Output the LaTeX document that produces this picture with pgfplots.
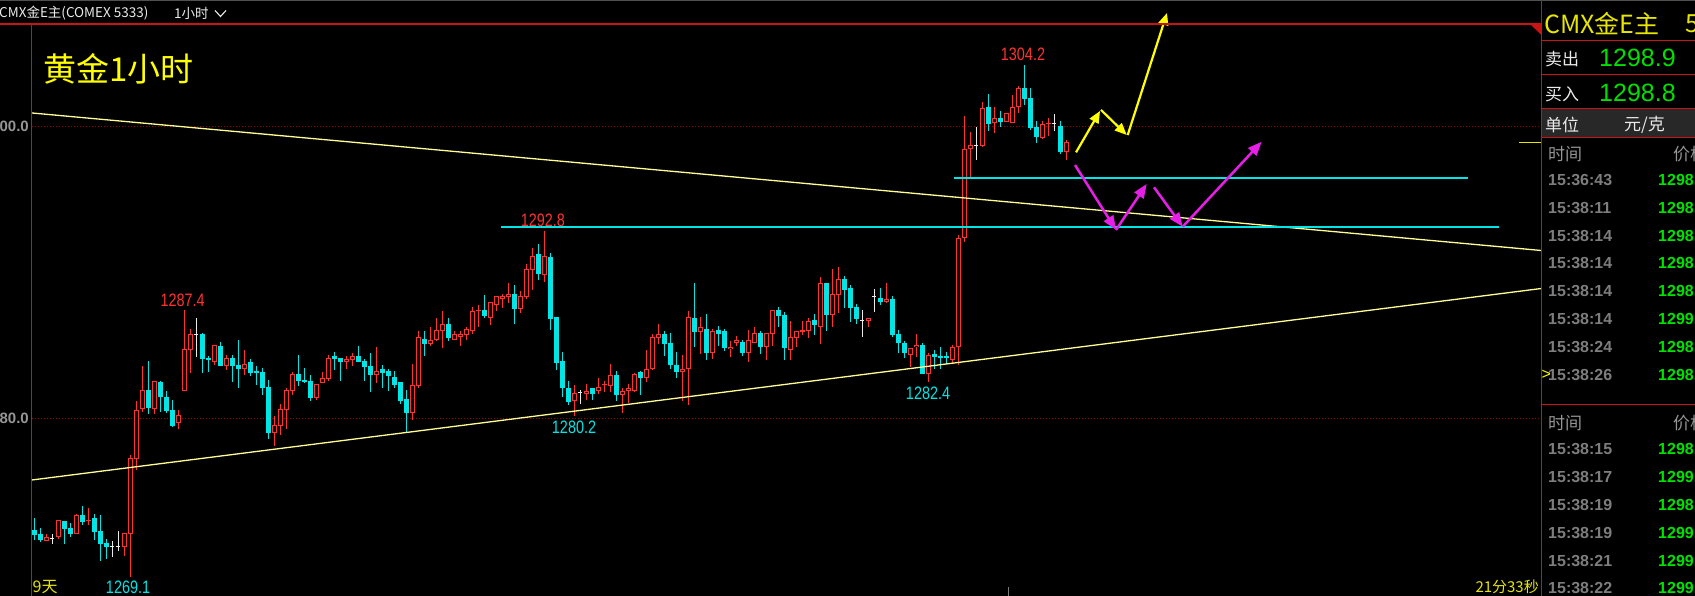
\documentclass[border=0pt]{standalone}
\usepackage{pgfplots}
\pgfplotsset{compat=1.18}
\usepackage{pgfplotstable}
\usepackage{graphicx}
\usepackage{fontspec}
\usetikzlibrary{arrows.meta}
\setmainfont{Liberation Sans}
\newfontfamily\cjk{Noto Sans CJK SC}
\definecolor{cred}{RGB}{255,50,50}
\definecolor{ccyan}{RGB}{0,230,230}
\definecolor{cline}{RGB}{255,255,150}
\definecolor{cframe}{RGB}{200,20,20}
\definecolor{cdot}{RGB}{150,0,0}
\definecolor{ctick}{RGB}{150,150,150}
\definecolor{ctime}{RGB}{125,125,125}
\definecolor{chead}{RGB}{150,150,150}
\definecolor{cgreen}{RGB}{0,225,0}
\definecolor{cyel}{RGB}{255,255,0}
\definecolor{cyel2}{RGB}{230,230,0}
\definecolor{cmag}{RGB}{230,30,230}
\definecolor{cband}{RGB}{40,40,40}
\definecolor{cwhite}{RGB}{235,235,235}
\newcommand{\fs}[1]{\fontsize{#1}{#1}\selectfont}

\pgfplotstableread{
i o h l c
2 1271.61 1272.04 1271.61 1271.84
4 1271.88 1273.03 1271.70 1273.03
7 1272.09 1273.44 1272.09 1273.35
9 1272.93 1273.83 1272.68 1273.03
15 1271.20 1272.11 1270.58 1272.11
16 1272.04 1277.48 1269.09 1277.25
17 1277.23 1281.19 1276.45 1280.55
18 1280.62 1283.59 1280.46 1281.94
20 1280.62 1282.56 1280.32 1282.56
24 1279.66 1280.57 1279.29 1280.20
25 1281.85 1287.43 1281.85 1284.73
26 1284.66 1286.10 1283.13 1285.76
30 1283.88 1285.00 1283.66 1285.00
32 1283.59 1284.34 1283.32 1284.13
35 1283.40 1284.68 1282.97 1283.70
40 1278.99 1280.16 1278.10 1279.54
41 1279.49 1280.98 1278.86 1280.64
42 1280.57 1282.08 1279.27 1281.94
43 1281.89 1283.18 1281.60 1283.04
47 1281.39 1282.33 1281.25 1282.33
48 1282.42 1283.18 1282.42 1282.76
49 1282.70 1284.34 1282.56 1284.13
52 1283.88 1284.27 1283.38 1284.07
53 1284.02 1284.48 1283.59 1284.27
57 1282.97 1284.89 1282.42 1283.24
63 1280.39 1283.72 1279.91 1282.28
64 1282.24 1285.99 1282.10 1285.58
66 1285.12 1286.26 1284.96 1285.37
67 1285.39 1286.88 1285.33 1286.06
68 1286.01 1287.36 1284.85 1286.47
70 1285.39 1285.99 1285.39 1285.78
71 1285.60 1285.99 1284.98 1285.78
72 1285.74 1286.26 1285.39 1286.13
73 1286.01 1287.63 1285.81 1287.36
74 1287.34 1287.77 1286.29 1287.45
76 1286.90 1287.98 1286.42 1287.98
77 1287.79 1288.39 1287.38 1288.39
78 1288.21 1288.53 1287.57 1288.37
79 1288.34 1289.28 1287.93 1288.53
81 1287.52 1288.73 1287.25 1288.39
82 1288.34 1290.58 1288.21 1290.22
83 1290.19 1291.68 1288.82 1291.13
85 1289.81 1292.85 1289.33 1291.13
90 1281.21 1282.28 1280.18 1281.74
92 1281.69 1282.38 1281.28 1281.90
94 1281.90 1282.76 1281.69 1282.15
95 1282.26 1282.56 1281.83 1282.35
96 1282.24 1283.72 1281.83 1282.97
98 1281.62 1282.08 1280.39 1281.87
99 1281.90 1282.38 1281.07 1282.08
100 1281.90 1283.13 1281.80 1283.04
102 1282.79 1284.69 1282.51 1283.38
103 1283.40 1285.78 1283.31 1285.58
104 1285.53 1286.47 1285.12 1285.78
108 1283.20 1284.34 1281.21 1283.38
109 1283.40 1287.36 1280.94 1286.95
111 1285.94 1286.95 1284.43 1286.26
113 1284.50 1286.13 1284.09 1285.99
116 1284.73 1285.30 1284.23 1284.89
117 1285.14 1285.64 1284.98 1285.37
119 1284.50 1286.06 1283.88 1285.37
120 1285.19 1286.26 1285.19 1285.85
122 1284.91 1285.85 1284.02 1285.85
123 1285.81 1287.43 1284.98 1287.43
126 1284.71 1286.67 1284.02 1285.58
127 1285.53 1285.99 1284.91 1285.99
128 1285.94 1286.67 1285.74 1286.06
129 1286.01 1286.88 1285.53 1286.67
131 1286.29 1289.69 1285.12 1289.26
133 1287.11 1290.24 1286.29 1288.50
134 1288.48 1290.38 1287.25 1289.53
139 1286.70 1286.88 1286.29 1286.88
142 1287.98 1289.28 1287.91 1288.16
146 1284.32 1284.85 1283.54 1284.85
147 1284.87 1285.76 1284.23 1285.03
149 1283.02 1284.46 1282.47 1284.34
153 1284.00 1285.03 1283.70 1284.87
154 1284.87 1292.57 1283.63 1292.34
155 1292.34 1300.73 1292.07 1298.45
156 1298.45 1299.64 1296.55 1298.72
158 1298.70 1301.72 1298.63 1301.26
160 1300.23 1301.35 1299.59 1300.57
162 1300.35 1300.94 1300.35 1300.94
163 1300.23 1302.17 1300.23 1301.35
164 1301.33 1302.79 1300.92 1302.63
168 1299.23 1300.39 1299.13 1300.16
169 1300.16 1300.60 1299.36 1300.25
172 1298.24 1299.09 1297.74 1298.93
}\uptab

\pgfplotstableread{
i o h l c
0 1272.34 1273.14 1271.65 1272.00
1 1272.06 1272.48 1271.54 1271.65
5 1272.96 1272.96 1271.38 1272.41
6 1272.48 1272.82 1271.84 1272.06
8 1273.35 1273.99 1272.68 1272.89
10 1273.14 1273.44 1271.65 1272.22
11 1272.27 1273.35 1270.24 1271.40
12 1271.42 1271.70 1270.37 1271.20
19 1281.94 1283.93 1280.32 1280.73
21 1282.49 1282.58 1280.43 1281.48
22 1281.44 1281.85 1280.39 1280.52
23 1280.57 1281.26 1279.43 1279.50
28 1285.78 1285.87 1283.13 1284.04
29 1284.13 1284.27 1283.20 1284.02
31 1284.96 1285.23 1283.59 1283.59
33 1284.13 1284.34 1282.49 1283.59
34 1283.66 1285.37 1282.08 1283.40
36 1283.86 1284.07 1282.90 1283.13
37 1283.27 1283.59 1282.28 1283.13
38 1283.18 1283.45 1281.60 1282.08
39 1282.15 1282.63 1278.58 1278.99
44 1283.04 1284.34 1282.22 1282.56
45 1282.63 1283.45 1282.42 1282.49
46 1282.56 1282.95 1281.19 1281.39
50 1284.27 1284.55 1283.32 1284.07
51 1284.13 1284.13 1282.56 1283.86
54 1284.27 1284.96 1283.86 1283.86
55 1283.93 1284.07 1282.56 1283.52
56 1283.59 1284.48 1281.80 1282.97
58 1283.38 1283.66 1282.10 1283.13
59 1283.24 1283.38 1281.90 1282.92
60 1282.83 1283.24 1282.10 1282.31
61 1282.47 1282.47 1281.00 1281.21
62 1281.32 1281.94 1279.08 1280.39
65 1285.44 1285.99 1284.30 1285.12
69 1286.47 1286.88 1285.33 1285.51
75 1287.45 1288.46 1286.88 1287.02
80 1288.53 1289.14 1286.49 1287.52
84 1291.27 1291.95 1289.51 1289.92
86 1291.06 1291.34 1286.06 1286.83
87 1286.95 1286.95 1283.31 1283.82
88 1283.93 1284.55 1281.48 1282.10
89 1282.08 1282.56 1280.94 1281.14
93 1282.08 1282.08 1281.28 1281.69
97 1282.97 1283.24 1281.21 1281.62
101 1283.15 1283.24 1281.62 1282.79
105 1285.78 1285.99 1284.30 1285.12
106 1285.17 1285.85 1283.40 1283.68
107 1283.66 1284.55 1282.79 1283.20
110 1286.88 1289.28 1284.91 1285.94
112 1286.13 1287.15 1284.00 1284.50
114 1286.06 1286.33 1284.98 1285.81
115 1285.99 1286.15 1284.64 1284.84
118 1285.23 1285.37 1284.30 1284.50
121 1285.85 1285.99 1284.43 1284.91
124 1287.43 1287.63 1286.26 1287.04
125 1287.09 1287.29 1284.02 1284.84
130 1286.74 1287.15 1285.74 1286.42
132 1289.28 1289.28 1286.01 1287.11
135 1289.55 1289.76 1287.59 1288.80
136 1288.94 1289.14 1286.63 1287.59
137 1287.63 1287.84 1286.49 1286.83
141 1288.25 1288.94 1287.79 1287.98
143 1288.18 1288.37 1285.60 1285.71
144 1285.76 1286.06 1284.46 1285.14
145 1285.14 1285.28 1284.11 1284.46
148 1285.00 1285.14 1283.02 1283.02
150 1284.39 1284.69 1283.36 1284.23
151 1284.27 1284.89 1283.36 1284.11
152 1284.27 1284.53 1283.70 1284.11
159 1301.35 1302.24 1299.73 1300.21
161 1300.57 1301.08 1300.00 1300.35
165 1302.63 1304.23 1301.51 1301.90
166 1301.97 1302.65 1299.77 1299.93
167 1299.96 1300.39 1298.91 1299.32
171 1300.05 1300.39 1298.15 1298.29
}\downtab

\pgfplotstableread{
i o h l c
3 1271.74 1272.04 1271.38 1271.74
13 1271.24 1271.58 1270.51 1271.24
14 1271.24 1272.27 1270.92 1271.24
27 1285.76 1286.86 1284.23 1285.76
91 1281.74 1281.94 1281.00 1281.74
138 1286.74 1287.43 1285.60 1286.74
140 1288.37 1288.87 1287.31 1288.37
157 1298.72 1299.96 1297.74 1298.72
170 1300.19 1300.87 1299.73 1300.19
}\dojitab

\begin{document}
\begin{tikzpicture}
\useasboundingbox (0,0) rectangle (1695pt,596pt);
\clip (0,0) rectangle (1695pt,596pt);
\fill[black] (0,0) rectangle (1695pt,596pt);

\begin{axis}[
  at={(32pt,0pt)}, anchor=south west,
  scale only axis, width=1509pt, height=572pt,
  xmin=-0.3333, xmax=251.1667, ymin=1267.812, ymax=1307.044,
  axis line style={draw=none},
  xtick=\empty,
  ytick={1280,1300}, yticklabels={1280.0,1300.0},
  major tick length=0pt,
  yticklabel style={anchor=east, inner sep=0pt, xshift=-3pt, text=ctick, font=\bfseries\fs{15}},
  ymajorgrids, grid style={cdot, line width=1pt, dash pattern=on 1pt off 2pt},
  clip=false,
]
% down candles (cyan, filled)
\addplot[ccyan, line width=1pt, quiver={u=0, v={\thisrow{l}-\thisrow{h}}}] table[x=i, y=h] \downtab;
\addplot[ccyan, line width=5pt, line cap=butt, quiver={u=0, v={min(\thisrow{c}-\thisrow{o},-0.07)}}] table[x=i, y=o] \downtab;
% up candles (red, hollow)
\addplot[cred, line width=1pt, quiver={u=0, v={\thisrow{l}-\thisrow{h}}}] table[x=i, y=h] \uptab;
\addplot[cred, line width=5pt, line cap=butt, quiver={u=0, v={max(\thisrow{c}-\thisrow{o},0.07)}}] table[x=i, y=o] \uptab;
\addplot[black, line width=3pt, line cap=butt, quiver={u=0, v={max(\thisrow{c}-\thisrow{o}-0.1372,0)}}] table[x=i, y expr=\thisrow{o}+0.0686] \uptab;
% doji (white cross)
\addplot[cwhite, line width=1pt, quiver={u=0, v={\thisrow{l}-\thisrow{h}}}] table[x=i, y=h] \dojitab;
\addplot[cwhite, line width=1pt, line cap=butt, quiver={u=0.8, v=0}] table[x expr=\thisrow{i}-0.4, y=c] \dojitab;

% trend lines
\addplot[cline, line width=1.3pt] coordinates {(-0.3333,1300.94) (251.1667,1291.51)};
\addplot[cline, line width=1.3pt] coordinates {(-0.3333,1275.77) (251.1667,1288.90)};
% horizontal support lines
\addplot[ccyan, line width=2pt] coordinates {(77.83,1293.14) (244.17,1293.14)};
\addplot[ccyan, line width=2pt] coordinates {(153.33,1296.50) (239.0,1296.50)};
% current price marker
\addplot[cyel2, line width=1pt] coordinates {(247.5,1298.9) (251.1667,1298.9)};

% yellow arrows
\addplot[cyel, line width=2.2pt, -{Triangle[length=12pt,width=10pt]}] coordinates {(173.67,1298.24) (177.67,1301.08)};
\addplot[cyel, line width=2.2pt, -{Triangle[length=12pt,width=10pt]}] coordinates {(177.83,1301.15) (182.12,1299.43)};
\addplot[cyel, line width=2.2pt, -{Triangle[length=12pt,width=10pt]}] coordinates {(182.28,1299.43) (188.83,1307.80)};
% magenta arrows
\addplot[cmag, line width=2.5pt, -{Triangle[length=14pt,width=11pt]}] coordinates {(173.5,1297.37) (180.33,1292.92)};
\addplot[cmag, line width=2.5pt, -{Triangle[length=14pt,width=11pt]}] coordinates {(180.33,1292.92) (185.45,1296.07)};
\addplot[cmag, line width=2.5pt, -{Triangle[length=14pt,width=11pt]}] coordinates {(186.67,1295.84) (191.45,1293.14)};
\addplot[cmag, line width=2.5pt, -{Triangle[length=14pt,width=11pt]}] coordinates {(191.45,1293.14) (204.62,1298.97)};

% extreme labels
\node[text=cred, font=\fs{14.4}, inner sep=0pt] at (axis cs:164.83,1304.99) {\scalebox{1}[1.25]{1304.2}};
\node[text=cred, font=\fs{14.4}, inner sep=0pt] at (axis cs:84.83,1293.60) {\scalebox{1}[1.25]{1292.8}};
\node[text=cred, font=\fs{14.4}, inner sep=0pt] at (axis cs:24.78,1288.11) {\scalebox{1}[1.25]{1287.4}};
\node[text=ccyan, font=\fs{14.4}, inner sep=0pt] at (axis cs:15.67,1268.43) {\scalebox{1}[1.25]{1269.1}};
\node[text=ccyan, font=\fs{14.4}, inner sep=0pt] at (axis cs:90.0,1279.40) {\scalebox{1}[1.25]{1280.2}};
\node[text=ccyan, font=\fs{14.4}, inner sep=0pt] at (axis cs:149.0,1281.73) {\scalebox{1}[1.25]{1282.4}};
\end{axis}

\begin{scope}[x=1pt,y=1pt]
% frame lines
\draw[color={rgb,255:red,80;green,80;blue,80}, line width=2pt] (0,596) -- (1695,596);
\draw[cframe, line width=1.2pt] (0,572) -- (1541.5,572);
\draw[cframe, line width=1pt] (31.7,572) -- (31.7,0);
\draw[cframe, line width=1pt] (1541.5,596) -- (1541.5,0);
\fill[cframe] (1530,572) -- (1541.5,572) -- (1541.5,561) -- cycle;
% bottom tick
\draw[ctime, line width=1pt] (1008.5,0) -- (1008.5,9);

% header
\node[anchor=west, inner sep=0pt, text=cwhite, font=\cjk\fs{13.5}] at (-1,583) {CMX金E主(COMEX 5333)};
\node[anchor=west, inner sep=0pt, text=cwhite, font=\cjk\fs{13.5}] at (174,583) {1小时};
\draw[cwhite, line width=1.1pt] (215,585.5) -- (220.5,579.5) -- (226,585.5);

% title
\node[anchor=west, inner sep=0pt, text=cyel, font=\cjk\fs{33}] at (43,527.5) {黄金1小时};

% bottom labels
\node[anchor=west, inner sep=0pt, text=cyel2, font=\cjk\fs{16}] at (32.5,8.5) {9天};
\node[anchor=east, inner sep=0pt, text=cyel2, font=\cjk\fs{15}] at (1539,9) {21分33秒};

% right panel
\fill[cband] (1542.2,458.7) rectangle (1695,487.7);
\foreach \yy in {555.3,521,487.7,458.7,191}
  \draw[cframe, line width=1pt] (1541.5,\yy) -- (1695,\yy);

\node[anchor=west, inner sep=0pt, text=cyel2, font=\cjk\fs{25}] at (1544,572.5) {CMX金E主};
\node[anchor=west, inner sep=0pt, text=cyel2, font=\cjk\fs{25}] at (1685,572.5) {5333};
\node[anchor=west, inner sep=0pt, text=cwhite, font=\cjk\fs{17}] at (1545,537) {卖出};
\node[anchor=west, inner sep=0pt, text=cgreen, font=\fs{25}] at (1599,538.5) {1298.9};
\node[anchor=west, inner sep=0pt, text=cwhite, font=\cjk\fs{17}] at (1545,502) {买入};
\node[anchor=west, inner sep=0pt, text=cgreen, font=\fs{25}] at (1599,503.5) {1298.8};
\node[anchor=west, inner sep=0pt, text=cwhite, font=\cjk\fs{17}] at (1545,471.5) {单位};
\node[anchor=west, inner sep=0pt, text=cwhite, font=\cjk\fs{17}] at (1624,471.5) {元/克};

\node[anchor=west, inner sep=0pt, text=chead, font=\cjk\fs{17}] at (1548,442) {时间};
\node[anchor=west, inner sep=0pt, text=chead, font=\cjk\fs{17}] at (1673,442) {价格};
\foreach \yy/\tt/\pp in {416/15:36:43/1298.8, 388/15:38:11/1298.9, 360/15:38:14/1298.9, 333/15:38:14/1298.8, 305/15:38:14/1298.9, 277/15:38:14/1299.0, 249/15:38:24/1298.9, 221/15:38:26/1298.8}{
  \node[anchor=west, inner sep=0pt, text=ctime, font=\bfseries\fs{16}] at (1548,\yy) {\tt};
  \node[anchor=west, inner sep=0pt, text=cgreen, font=\bfseries\fs{16}] at (1658,\yy) {\pp};
}
\node[anchor=west, inner sep=0pt, text=cyel, font=\fs{16}] at (1541.5,221) {>};

\node[anchor=west, inner sep=0pt, text=chead, font=\cjk\fs{17}] at (1548,173) {时间};
\node[anchor=west, inner sep=0pt, text=chead, font=\cjk\fs{17}] at (1673,173) {价格};
\foreach \yy/\tt/\pp in {147/15:38:15/1298.9, 119/15:38:17/1299.0, 91/15:38:19/1298.9, 63/15:38:19/1299.0, 35/15:38:21/1299.0, 8/15:38:22/1299.1}{
  \node[anchor=west, inner sep=0pt, text=ctime, font=\bfseries\fs{16}] at (1548,\yy) {\tt};
  \node[anchor=west, inner sep=0pt, text=cgreen, font=\bfseries\fs{16}] at (1658,\yy) {\pp};
}
\end{scope}
\end{tikzpicture}
\end{document}
